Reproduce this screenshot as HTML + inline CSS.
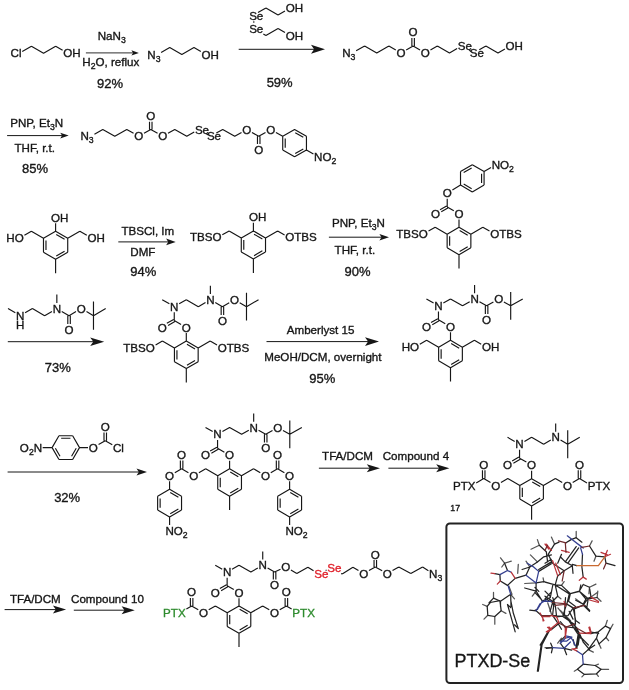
<!DOCTYPE html>
<html><head><meta charset="utf-8"><title>Scheme</title>
<style>html,body{margin:0;padding:0;background:#fff}svg{display:block;will-change:transform}</style>
</head><body>
<svg width="629" height="690" viewBox="0 0 629 690" font-family="'Liberation Sans', Arial, sans-serif">
<path d="M22.24 51.6L31.42 46.3M31.42 46.3L43.55 53.3M43.55 53.3L55.67 46.3M55.67 46.3L62.6 50.3" stroke="#161616" stroke-width="1.15" fill="none" stroke-linecap="butt"/>
<text x="10.54" y="57.45" font-size="11.6" fill="#161616" stroke="#161616" stroke-width="0.35" text-anchor="start">Cl</text>
<text x="63.29" y="57.45" font-size="11.6" fill="#161616" stroke="#161616" stroke-width="0.35" text-anchor="start">OH</text>
<path d="M85.9 52.9L134.4 52.9" stroke="#161616" stroke-width="0.9" fill="none"/><path d="M138.9 52.9L131.4 50.3L133.05 52.9L131.4 55.5Z" fill="#161616"/>
<text x="111.7" y="39.9" font-size="11.6" fill="#161616" stroke="#161616" stroke-width="0.35" text-anchor="middle">NaN<tspan dy="2.9" font-size="8.7">3</tspan></text>
<text x="110.8" y="66.1" font-size="11.6" fill="#161616" stroke="#161616" stroke-width="0.35" text-anchor="middle">H<tspan dy="2.9" font-size="8.7">2</tspan><tspan dy="-2.9">O, reflux</tspan></text>
<text x="110" y="87.6" font-size="13" fill="#161616" stroke="#161616" stroke-width="0.35" text-anchor="middle">92%</text>
<path d="M161.11 52.57L169.72 47.6M169.72 47.6L181.85 54.6M181.85 54.6L193.97 47.6M193.97 47.6L200.83 51.56" stroke="#161616" stroke-width="1.15" fill="none" stroke-linecap="butt"/>
<text x="147.29" y="58.75" font-size="11.6" fill="#161616" stroke="#161616" stroke-width="0.35" text-anchor="start">N<tspan dy="2.9" font-size="8.7">3</tspan></text>
<text x="201.59" y="58.75" font-size="11.6" fill="#161616" stroke="#161616" stroke-width="0.35" text-anchor="start">OH</text>
<path d="M257.96 12.5L265.92 7.9M265.92 7.9L278.05 14.9M278.05 14.9L284.98 10.9M263.33 33.9L265.92 35.4M265.92 35.4L278.05 28.4M278.05 28.4L284.98 32.4M253.8 21.35L253.8 22.76" stroke="#161616" stroke-width="1.15" fill="none" stroke-linecap="butt"/>
<text x="249.13" y="19.85" font-size="11.6" fill="#161616" stroke="#161616" stroke-width="0.35" text-anchor="start">Se</text>
<text x="285.66" y="12.05" font-size="11.6" fill="#161616" stroke="#161616" stroke-width="0.35" text-anchor="start">OH</text>
<text x="249.13" y="32.55" font-size="11.6" fill="#161616" stroke="#161616" stroke-width="0.35" text-anchor="start">Se</text>
<text x="285.66" y="39.55" font-size="11.6" fill="#161616" stroke="#161616" stroke-width="0.35" text-anchor="start">OH</text>
<path d="M238.7 49.3L316.6 49.3" stroke="#161616" stroke-width="1" fill="none"/><path d="M325 49.3L311 44.8L314.08 49.3L311 53.8Z" fill="#161616"/>
<text x="279.65" y="87.4" font-size="13" fill="#161616" stroke="#161616" stroke-width="0.35" text-anchor="middle">59%</text>
<path d="M356.14 50.8L364.62 45.9M364.62 45.9L376.75 52.9M376.75 52.9L388.87 45.9M388.87 45.9L395.8 49.9M406.19 49.9L413.12 45.9M413.12 45.9L420.05 49.9M430.44 49.9L437.37 45.9M437.37 45.9L449.49 52.9M449.49 52.9L457.12 48.5M471.15 51.4L469.24 50.3M479.29 49.7L485.87 45.9M485.87 45.9L497.99 52.9M497.99 52.9L504.92 48.9M414.37 45.9L414.37 37.9M411.87 45.9L411.87 37.9" stroke="#161616" stroke-width="1.15" fill="none" stroke-linecap="butt"/>
<text x="342.19" y="57.05" font-size="11.6" fill="#161616" stroke="#161616" stroke-width="0.35" text-anchor="start">N<tspan dy="2.9" font-size="8.7">3</tspan></text>
<text x="396.49" y="57.05" font-size="11.6" fill="#161616" stroke="#161616" stroke-width="0.35" text-anchor="start">O</text>
<text x="420.73" y="57.05" font-size="11.6" fill="#161616" stroke="#161616" stroke-width="0.35" text-anchor="start">O</text>
<text x="457.75" y="50.05" font-size="11.6" fill="#161616" stroke="#161616" stroke-width="0.35" text-anchor="start">Se</text>
<text x="469.87" y="57.05" font-size="11.6" fill="#161616" stroke="#161616" stroke-width="0.35" text-anchor="start">Se</text>
<text x="505.6" y="50.05" font-size="11.6" fill="#161616" stroke="#161616" stroke-width="0.35" text-anchor="start">OH</text>
<text x="408.61" y="36.45" font-size="11.6" fill="#161616" stroke="#161616" stroke-width="0.35" text-anchor="start">O</text>
<text x="36.65" y="126.7" font-size="11.6" fill="#161616" stroke="#161616" stroke-width="0.35" text-anchor="middle">PNP, Et<tspan dy="2.9" font-size="8.7">3</tspan><tspan dy="-2.9">N</tspan></text>
<path d="M7.1 135.6L63.6 135.6" stroke="#161616" stroke-width="1" fill="none"/><path d="M68.7 135.6L60.2 132.8L62.07 135.6L60.2 138.4Z" fill="#161616"/>
<text x="34.75" y="152.2" font-size="11.6" fill="#161616" stroke="#161616" stroke-width="0.35" text-anchor="middle">THF, r.t.</text>
<text x="35.1" y="172.5" font-size="13" fill="#161616" stroke="#161616" stroke-width="0.35" text-anchor="middle">85%</text>
<path d="M94.45 134.19L102.79 129.38M102.79 129.38L114.79 136.3M114.79 136.3L126.78 129.38M126.78 129.38L133.56 133.29M143.99 133.29L150.77 129.38M150.77 129.38L157.55 133.29M167.98 133.29L174.76 129.38M174.76 129.38L186.76 136.3M186.76 136.3L194.23 131.98M208.31 134.89L206.22 133.69M216.31 133.09L222.74 129.38M222.74 129.38L234.73 136.3M234.73 136.3L241.51 132.39M251.94 132.39L258.72 136.3M258.72 136.3L265.5 132.39M152.02 129.38L152.02 121.78M149.52 129.38L149.52 121.78M257.47 136.3L257.47 144.02M259.97 136.3L259.97 144.02M294.58 129.43L306.45 136.28M295.24 132.69L303.29 137.34M306.45 136.28L306.45 149.97M306.45 149.97L294.58 156.82M303.29 148.91L295.24 153.56M294.58 156.82L282.72 149.97M282.72 149.97L282.72 136.28M285.22 147.78L285.22 138.47M282.72 136.28L294.58 129.43M275.93 132.38L282.72 136.28M306.45 149.97L313.43 154" stroke="#161616" stroke-width="1.15" fill="none" stroke-linecap="butt"/>
<text x="80.49" y="140.45" font-size="11.6" fill="#161616" stroke="#161616" stroke-width="0.35" text-anchor="start">N<tspan dy="2.9" font-size="8.7">3</tspan></text>
<text x="134.27" y="140.45" font-size="11.6" fill="#161616" stroke="#161616" stroke-width="0.35" text-anchor="start">O</text>
<text x="158.25" y="140.45" font-size="11.6" fill="#161616" stroke="#161616" stroke-width="0.35" text-anchor="start">O</text>
<text x="194.88" y="133.53" font-size="11.6" fill="#161616" stroke="#161616" stroke-width="0.35" text-anchor="start">Se</text>
<text x="206.88" y="140.45" font-size="11.6" fill="#161616" stroke="#161616" stroke-width="0.35" text-anchor="start">Se</text>
<text x="242.22" y="133.53" font-size="11.6" fill="#161616" stroke="#161616" stroke-width="0.35" text-anchor="start">O</text>
<text x="266.2" y="133.53" font-size="11.6" fill="#161616" stroke="#161616" stroke-width="0.35" text-anchor="start">O</text>
<text x="146.26" y="120.33" font-size="11.6" fill="#161616" stroke="#161616" stroke-width="0.35" text-anchor="start">O</text>
<text x="254.21" y="153.65" font-size="11.6" fill="#161616" stroke="#161616" stroke-width="0.35" text-anchor="start">O</text>
<text x="314.12" y="160.98" font-size="11.6" fill="#161616" stroke="#161616" stroke-width="0.35" text-anchor="start">NO<tspan dy="2.9" font-size="8.7">2</tspan></text>
<path d="M55.6 231.3L67.72 238.3M56.26 234.57L64.57 239.37M67.72 238.3L67.72 252.3M67.72 252.3L55.6 259.3M64.57 251.23L56.26 256.03M55.6 259.3L43.48 252.3M43.48 252.3L43.48 238.3M45.98 250.1L45.98 240.5M43.48 238.3L55.6 231.3M55.6 259.3L55.6 273.3M55.6 231.3L55.6 223.23M43.48 238.3L31.35 231.3M31.35 231.3L24.42 235.3M67.72 238.3L79.85 231.3M79.85 231.3L86.78 235.3" stroke="#161616" stroke-width="1.15" fill="none" stroke-linecap="butt"/>
<text x="51.09" y="221.73" font-size="11.6" fill="#161616" stroke="#161616" stroke-width="0.35" text-anchor="start">OH</text>
<text x="6.34" y="242.45" font-size="11.6" fill="#161616" stroke="#161616" stroke-width="0.35" text-anchor="start">HO</text>
<text x="87.46" y="242.45" font-size="11.6" fill="#161616" stroke="#161616" stroke-width="0.35" text-anchor="start">OH</text>
<text x="147.85" y="234.5" font-size="11.6" fill="#161616" stroke="#161616" stroke-width="0.35" text-anchor="middle">TBSCl, Im</text>
<path d="M118.3 241.9L169.94 241.9" stroke="#161616" stroke-width="1" fill="none"/><path d="M175.7 241.9L166.1 238.6L168.21 241.9L166.1 245.2Z" fill="#161616"/>
<text x="142.85" y="256.3" font-size="11.6" fill="#161616" stroke="#161616" stroke-width="0.35" text-anchor="middle">DMF</text>
<text x="143.25" y="276.4" font-size="13" fill="#161616" stroke="#161616" stroke-width="0.35" text-anchor="middle">94%</text>
<path d="M253.4 230.9L265.52 237.9M254.06 234.17L262.37 238.97M265.52 237.9L265.52 251.9M265.52 251.9L253.4 258.9M262.37 250.83L254.06 255.63M253.4 258.9L241.28 251.9M241.28 251.9L241.28 237.9M243.78 249.7L243.78 240.1M241.28 237.9L253.4 230.9M253.4 258.9L253.4 272.9M253.4 230.9L253.4 222.83M241.28 237.9L229.15 230.9M229.15 230.9L222.3 234.86M265.52 237.9L277.65 230.9M277.65 230.9L284.58 234.9" stroke="#161616" stroke-width="1.15" fill="none" stroke-linecap="butt"/>
<text x="248.89" y="221.33" font-size="11.6" fill="#161616" stroke="#161616" stroke-width="0.35" text-anchor="start">OH</text>
<text x="189.95" y="241.05" font-size="11.6" fill="#161616" stroke="#161616" stroke-width="0.35" text-anchor="start">TBSO</text>
<text x="285.26" y="241.05" font-size="11.6" fill="#161616" stroke="#161616" stroke-width="0.35" text-anchor="start">OTBS</text>
<text x="358.4" y="226.8" font-size="11.6" fill="#161616" stroke="#161616" stroke-width="0.35" text-anchor="middle">PNP, Et<tspan dy="2.9" font-size="8.7">3</tspan><tspan dy="-2.9">N</tspan></text>
<path d="M328.9 237.2L383.24 237.2" stroke="#161616" stroke-width="1" fill="none"/><path d="M389 237.2L379.4 233.9L381.51 237.2L379.4 240.5Z" fill="#161616"/>
<text x="354.85" y="253.8" font-size="11.6" fill="#161616" stroke="#161616" stroke-width="0.35" text-anchor="middle">THF, r.t.</text>
<text x="357.5" y="275.6" font-size="13" fill="#161616" stroke="#161616" stroke-width="0.35" text-anchor="middle">90%</text>
<path d="M459 227.3L470.86 234.15M459.66 230.57L467.71 235.22M470.86 234.15L470.86 247.85M470.86 247.85L459 254.7M467.71 246.78L459.66 251.43M459 254.7L447.14 247.85M447.14 247.85L447.14 234.15M449.64 245.65L449.64 236.35M447.14 234.15L459 227.3M459 254.7L459 268.5M459 227.3L459 219.43M447.14 234.15L435.18 227.25M435.18 227.25L428.51 231.11M470.86 234.15L482.82 227.25M482.82 227.25L489.49 231.11M453.8 210.78L447.22 206.98M446.6 205.89L440.02 209.69M447.85 208.06L441.27 211.86M447.22 206.98L447.22 198.78M472.3 164.7L484.08 171.5M484.08 171.5L484.08 185.1M481.58 173.7L481.58 182.9M484.08 185.1L472.3 191.9M472.3 191.9L460.52 185.1M471.64 188.63L463.68 184.03M460.52 185.1L460.52 171.5M460.52 171.5L472.3 164.7M463.68 172.57L471.64 167.97M452.4 190.03L460.52 185.1M484.08 171.5L491.01 167.5" stroke="#161616" stroke-width="1.15" fill="none" stroke-linecap="butt"/>
<text x="454.49" y="217.93" font-size="11.6" fill="#161616" stroke="#161616" stroke-width="0.35" text-anchor="start">O</text>
<text x="396.16" y="238.3" font-size="11.6" fill="#161616" stroke="#161616" stroke-width="0.35" text-anchor="start">TBSO</text>
<text x="490.25" y="238.3" font-size="11.6" fill="#161616" stroke="#161616" stroke-width="0.35" text-anchor="start">OTBS</text>
<text x="430.93" y="217.93" font-size="11.6" fill="#161616" stroke="#161616" stroke-width="0.35" text-anchor="start">O</text>
<text x="442.71" y="197.33" font-size="11.6" fill="#161616" stroke="#161616" stroke-width="0.35" text-anchor="start">O</text>
<text x="491.67" y="168.85" font-size="11.6" fill="#161616" stroke="#161616" stroke-width="0.35" text-anchor="start">NO<tspan dy="2.9" font-size="8.7">2</tspan></text>
<path d="M8 308.6L15.33 312.83M25.1 312.83L32.42 308.6M32.42 308.6L44.63 315.65M44.63 315.65L51.96 311.42M61.73 311.42L69.05 315.65M69.05 315.65L76.03 311.62M86.5 311.62L93.48 315.65M56.84 302.96L56.84 294.5M67.8 315.65L67.8 324.11M70.3 315.65L70.3 324.11M93.48 315.65L93.48 301.55M93.48 315.65L93.48 329.75M93.48 315.65L105.69 308.6" stroke="#161616" stroke-width="1.15" fill="none" stroke-linecap="butt"/>
<text x="16.02" y="319.8" font-size="11.6" fill="#161616" stroke="#161616" stroke-width="0.35" text-anchor="start">N</text>
<text x="52.66" y="312.75" font-size="11.6" fill="#161616" stroke="#161616" stroke-width="0.35" text-anchor="start">N</text>
<text x="76.75" y="312.75" font-size="11.6" fill="#161616" stroke="#161616" stroke-width="0.35" text-anchor="start">O</text>
<text x="64.54" y="333.9" font-size="11.6" fill="#161616" stroke="#161616" stroke-width="0.35" text-anchor="start">O</text>
<text x="16.02" y="329" font-size="11.6" fill="#161616" stroke="#161616" stroke-width="0.35" text-anchor="start">H</text>
<path d="M7.8 341.7L95.8 341.7" stroke="#161616" stroke-width="1" fill="none"/><path d="M104.2 341.7L90.2 337.4L93.28 341.7L90.2 346Z" fill="#161616"/>
<text x="57.75" y="371.7" font-size="13" fill="#161616" stroke="#161616" stroke-width="0.35" text-anchor="middle">73%</text>
<path d="M186.3 341.1L198.16 347.95M186.96 344.37L195.01 349.02M198.16 347.95L198.16 361.65M198.16 361.65L186.3 368.5M195.01 360.58L186.96 365.23M186.3 368.5L174.44 361.65M174.44 361.65L174.44 347.95M176.94 359.45L176.94 350.15M174.44 347.95L186.3 341.1M186.3 368.5L186.3 382.4M186.3 341.1L186.3 333.09M174.44 347.95L162.4 341M162.4 341L155.59 344.93M198.16 347.95L210.2 341M210.2 341L217.01 344.93M181.07 324.46L174.26 320.53M173.64 319.45L166.83 323.37M174.89 321.61L168.08 325.54M174.26 320.53L174.26 312.27M169.38 303.81L162.22 299.68M179.15 303.81L186.3 299.68M186.3 299.68L198.34 306.63M198.34 306.63L205.49 302.5M210.38 294.04L210.38 285.78M215.26 302.5L222.41 306.63M222.41 306.63L229.22 302.7M239.68 302.7L246.49 306.63M221.16 306.63L221.16 314.89M223.66 306.63L223.66 314.89M246.49 306.63L246.49 292.73M246.49 306.63L246.49 320.53M246.49 306.63L258.53 299.68" stroke="#161616" stroke-width="1.15" fill="none" stroke-linecap="butt"/>
<text x="181.79" y="331.63" font-size="11.6" fill="#161616" stroke="#161616" stroke-width="0.35" text-anchor="start">O</text>
<text x="123.29" y="351.5" font-size="11.6" fill="#161616" stroke="#161616" stroke-width="0.35" text-anchor="start">TBSO</text>
<text x="217.73" y="351.5" font-size="11.6" fill="#161616" stroke="#161616" stroke-width="0.35" text-anchor="start">OTBS</text>
<text x="157.71" y="331.63" font-size="11.6" fill="#161616" stroke="#161616" stroke-width="0.35" text-anchor="start">O</text>
<text x="170.07" y="310.78" font-size="11.6" fill="#161616" stroke="#161616" stroke-width="0.35" text-anchor="start">N</text>
<text x="206.19" y="303.83" font-size="11.6" fill="#161616" stroke="#161616" stroke-width="0.35" text-anchor="start">N</text>
<text x="229.94" y="303.83" font-size="11.6" fill="#161616" stroke="#161616" stroke-width="0.35" text-anchor="start">O</text>
<text x="217.9" y="324.68" font-size="11.6" fill="#161616" stroke="#161616" stroke-width="0.35" text-anchor="start">O</text>
<text x="320.6" y="333.8" font-size="11.6" fill="#161616" stroke="#161616" stroke-width="0.35" text-anchor="middle">Amberlyst 15</text>
<path d="M266.5 341.6L370.6 341.6" stroke="#161616" stroke-width="1" fill="none"/><path d="M379 341.6L365 337.3L368.08 341.6L365 345.9Z" fill="#161616"/>
<text x="322.9" y="361.2" font-size="11.6" fill="#161616" stroke="#161616" stroke-width="0.35" text-anchor="middle">MeOH/DCM, overnight</text>
<text x="322.3" y="382.9" font-size="13" fill="#161616" stroke="#161616" stroke-width="0.35" text-anchor="middle">95%</text>
<path d="M450.5 340.3L462.36 347.15M451.16 343.57L459.21 348.22M462.36 347.15L462.36 360.85M462.36 360.85L450.5 367.7M459.21 359.78L451.16 364.43M450.5 367.7L438.64 360.85M438.64 360.85L438.64 347.15M441.14 358.65L441.14 349.35M438.64 347.15L450.5 340.3M450.5 367.7L450.5 381.6M450.5 340.3L450.5 332.29M438.64 347.15L426.6 340.2M426.6 340.2L419.79 344.13M462.36 347.15L474.4 340.2M474.4 340.2L481.21 344.13M445.27 323.66L438.46 319.73M437.84 318.65L431.03 322.57M439.09 320.81L432.28 324.74M438.46 319.73L438.46 311.47M433.58 303.01L426.42 298.88M443.35 303.01L450.5 298.88M450.5 298.88L462.54 305.83M462.54 305.83L469.69 301.7M474.58 293.24L474.58 284.98M479.46 301.7L486.61 305.83M486.61 305.83L493.42 301.9M503.88 301.9L510.69 305.83M485.36 305.83L485.36 314.09M487.86 305.83L487.86 314.09M510.69 305.83L510.69 291.93M510.69 305.83L510.69 319.73M510.69 305.83L522.73 298.88" stroke="#161616" stroke-width="1.15" fill="none" stroke-linecap="butt"/>
<text x="445.99" y="330.83" font-size="11.6" fill="#161616" stroke="#161616" stroke-width="0.35" text-anchor="start">O</text>
<text x="401.67" y="351.3" font-size="11.6" fill="#161616" stroke="#161616" stroke-width="0.35" text-anchor="start">HO</text>
<text x="481.93" y="351.3" font-size="11.6" fill="#161616" stroke="#161616" stroke-width="0.35" text-anchor="start">OH</text>
<text x="421.91" y="330.83" font-size="11.6" fill="#161616" stroke="#161616" stroke-width="0.35" text-anchor="start">O</text>
<text x="434.27" y="309.98" font-size="11.6" fill="#161616" stroke="#161616" stroke-width="0.35" text-anchor="start">N</text>
<text x="470.39" y="303.03" font-size="11.6" fill="#161616" stroke="#161616" stroke-width="0.35" text-anchor="start">N</text>
<text x="494.14" y="303.03" font-size="11.6" fill="#161616" stroke="#161616" stroke-width="0.35" text-anchor="start">O</text>
<text x="482.1" y="323.88" font-size="11.6" fill="#161616" stroke="#161616" stroke-width="0.35" text-anchor="start">O</text>
<path d="M79.5 447.6L72.65 459.46M76.23 448.26L71.58 456.31M72.65 459.46L58.95 459.46M58.95 459.46L52.1 447.6M60.02 456.31L55.37 448.26M52.1 447.6L58.95 435.74M58.95 435.74L72.65 435.74M61.15 438.24L70.45 438.24M72.65 435.74L79.5 447.6M52.1 447.6L42.7 447.6M79.5 447.6L88.02 447.6M98.57 444.56L105.25 440.7M105.25 440.7L112.28 444.76M106.5 440.7L106.5 432.5M104 440.7L104 432.5" stroke="#161616" stroke-width="1.15" fill="none" stroke-linecap="butt"/>
<text x="19.85" y="451.75" font-size="11.6" fill="#161616" stroke="#161616" stroke-width="0.35" text-anchor="start">O<tspan dy="2.9" font-size="8.7">2</tspan><tspan dy="-2.9">N</tspan></text>
<text x="88.79" y="451.75" font-size="11.6" fill="#161616" stroke="#161616" stroke-width="0.35" text-anchor="start">O</text>
<text x="113.01" y="451.75" font-size="11.6" fill="#161616" stroke="#161616" stroke-width="0.35" text-anchor="start">Cl</text>
<text x="100.74" y="431.05" font-size="11.6" fill="#161616" stroke="#161616" stroke-width="0.35" text-anchor="start">O</text>
<path d="M7.6 472L140.7 472" stroke="#161616" stroke-width="1" fill="none"/><path d="M147 472L136.5 468.5L138.81 472L136.5 475.5Z" fill="#161616"/>
<text x="67.15" y="501.8" font-size="13" fill="#161616" stroke="#161616" stroke-width="0.35" text-anchor="middle">32%</text>
<path d="M229.6 468.8L241.46 475.65M230.26 472.07L238.31 476.72M241.46 475.65L241.46 489.35M241.46 489.35L229.6 496.2M238.31 488.28L230.26 492.93M229.6 496.2L217.74 489.35M217.74 489.35L217.74 475.65M220.24 487.15L220.24 477.85M217.74 475.65L229.6 468.8M229.6 496.2L229.6 510.1M229.6 468.8L229.6 460.79M217.74 475.65L205.7 468.7M241.46 475.65L253.5 468.7M224.37 452.16L217.56 448.23M216.94 447.15L210.13 451.07M218.19 449.31L211.38 453.24M217.56 448.23L217.56 439.97M212.68 431.51L205.52 427.38M222.45 431.51L229.6 427.38M229.6 427.38L241.64 434.33M241.64 434.33L248.79 430.2M253.68 421.74L253.68 413.48M258.56 430.2L265.71 434.33M265.71 434.33L272.52 430.4M282.98 430.4L289.79 434.33M264.46 434.33L264.46 442.59M266.96 434.33L266.96 442.59M289.79 434.33L289.79 420.43M289.79 434.33L289.79 448.23M289.79 434.33L301.83 427.38M205.7 468.7L198.89 472.63M188.43 472.63L181.62 468.7M182.87 468.7L182.87 460.44M180.37 468.7L180.37 460.44M181.62 468.7L174.82 472.63M169.58 489.35L181.54 496.25M170.24 492.62L178.38 497.32M181.54 496.25L181.54 510.05M181.54 510.05L169.58 516.95M178.38 508.98L170.24 513.68M169.58 516.95L157.63 510.05M157.63 510.05L157.63 496.25M160.13 507.85L160.13 498.45M157.63 496.25L169.58 489.35M169.58 481.29L169.58 489.35M169.58 516.95L169.58 524.95M253.5 468.7L260.31 472.63M270.77 472.63L277.58 468.7M278.83 468.7L278.83 460.44M276.33 468.7L276.33 460.44M277.58 468.7L284.38 472.63M289.62 489.35L301.57 496.25M290.27 492.62L298.41 497.32M301.57 496.25L301.57 510.05M301.57 510.05L289.62 516.95M298.41 508.98L290.27 513.68M289.62 516.95L277.66 510.05M277.66 510.05L277.66 496.25M280.16 507.85L280.16 498.45M277.66 496.25L289.62 489.35M289.62 481.29L289.62 489.35M289.62 516.95L289.62 524.95" stroke="#161616" stroke-width="1.15" fill="none" stroke-linecap="butt"/>
<text x="225.09" y="459.33" font-size="11.6" fill="#161616" stroke="#161616" stroke-width="0.35" text-anchor="start">O</text>
<text x="201.01" y="459.33" font-size="11.6" fill="#161616" stroke="#161616" stroke-width="0.35" text-anchor="start">O</text>
<text x="213.37" y="438.48" font-size="11.6" fill="#161616" stroke="#161616" stroke-width="0.35" text-anchor="start">N</text>
<text x="249.49" y="431.53" font-size="11.6" fill="#161616" stroke="#161616" stroke-width="0.35" text-anchor="start">N</text>
<text x="273.24" y="431.53" font-size="11.6" fill="#161616" stroke="#161616" stroke-width="0.35" text-anchor="start">O</text>
<text x="261.2" y="452.38" font-size="11.6" fill="#161616" stroke="#161616" stroke-width="0.35" text-anchor="start">O</text>
<text x="189.15" y="479.8" font-size="11.6" fill="#161616" stroke="#161616" stroke-width="0.35" text-anchor="start">O</text>
<text x="177.11" y="458.95" font-size="11.6" fill="#161616" stroke="#161616" stroke-width="0.35" text-anchor="start">O</text>
<text x="165.07" y="479.8" font-size="11.6" fill="#161616" stroke="#161616" stroke-width="0.35" text-anchor="start">O</text>
<text x="165.4" y="534.7" font-size="11.6" fill="#161616" stroke="#161616" stroke-width="0.35" text-anchor="start">NO<tspan dy="2.9" font-size="8.7">2</tspan></text>
<text x="261.03" y="479.8" font-size="11.6" fill="#161616" stroke="#161616" stroke-width="0.35" text-anchor="start">O</text>
<text x="273.07" y="458.95" font-size="11.6" fill="#161616" stroke="#161616" stroke-width="0.35" text-anchor="start">O</text>
<text x="285.1" y="479.8" font-size="11.6" fill="#161616" stroke="#161616" stroke-width="0.35" text-anchor="start">O</text>
<text x="285.43" y="534.7" font-size="11.6" fill="#161616" stroke="#161616" stroke-width="0.35" text-anchor="start">NO<tspan dy="2.9" font-size="8.7">2</tspan></text>
<text x="347.5" y="460.3" font-size="11.6" fill="#161616" stroke="#161616" stroke-width="0.35" text-anchor="middle">TFA/DCM</text>
<path d="M318.9 468.2L372.08 468.2" stroke="#161616" stroke-width="1" fill="none"/><path d="M380 468.2L366.8 464.2L369.7 468.2L366.8 472.2Z" fill="#161616"/>
<text x="415.95" y="460.3" font-size="11.6" fill="#161616" stroke="#161616" stroke-width="0.35" text-anchor="middle">Compound 4</text>
<path d="M388.4 468.2L441.48 468.2" stroke="#161616" stroke-width="1" fill="none"/><path d="M449.4 468.2L436.2 464.2L439.1 468.2L436.2 472.2Z" fill="#161616"/>
<path d="M531.6 478.7L543.38 485.5M532.26 481.97L540.22 486.57M543.38 485.5L543.38 499.1M543.38 499.1L531.6 505.9M540.22 498.03L532.26 502.63M531.6 505.9L519.82 499.1M519.82 499.1L519.82 485.5M522.32 496.9L522.32 487.7M519.82 485.5L531.6 478.7M531.6 505.9L531.6 519.8M531.6 478.7L531.6 470.69M519.82 485.5L507.78 478.55M543.38 485.5L555.42 478.55M526.37 462.06L519.56 458.13M518.94 457.05L512.13 460.97M520.19 459.21L513.38 463.14M519.56 458.13L519.56 449.87M514.68 441.41L507.52 437.28M524.45 441.41L531.6 437.28M531.6 437.28L543.64 444.23M543.64 444.23L550.79 440.1M555.68 431.64L555.68 423.38M560.56 440.1L567.71 444.23M567.71 444.23L567.71 430.33M567.71 444.23L567.71 458.13M567.71 444.23L579.75 437.28M507.78 478.55L500.98 482.48M490.51 482.48L483.71 478.55M484.96 478.55L484.96 470.29M482.46 478.55L482.46 470.29M483.71 478.55L476.21 482.88M555.42 478.55L562.22 482.48M572.69 482.48L579.49 478.55M580.74 478.55L580.74 470.29M578.24 478.55L578.24 470.29M579.49 478.55L586.99 482.88" stroke="#161616" stroke-width="1.15" fill="none" stroke-linecap="butt"/>
<text x="527.09" y="469.23" font-size="11.6" fill="#161616" stroke="#161616" stroke-width="0.35" text-anchor="start">O</text>
<text x="503.01" y="469.23" font-size="11.6" fill="#161616" stroke="#161616" stroke-width="0.35" text-anchor="start">O</text>
<text x="515.37" y="448.38" font-size="11.6" fill="#161616" stroke="#161616" stroke-width="0.35" text-anchor="start">N</text>
<text x="551.49" y="441.43" font-size="11.6" fill="#161616" stroke="#161616" stroke-width="0.35" text-anchor="start">N</text>
<text x="491.23" y="489.65" font-size="11.6" fill="#161616" stroke="#161616" stroke-width="0.35" text-anchor="start">O</text>
<text x="479.2" y="468.8" font-size="11.6" fill="#161616" stroke="#161616" stroke-width="0.35" text-anchor="start">O</text>
<text x="452.98" y="489.65" font-size="11.6" fill="#161616" stroke="#161616" stroke-width="0.35" text-anchor="start">PTX</text>
<text x="562.94" y="489.65" font-size="11.6" fill="#161616" stroke="#161616" stroke-width="0.35" text-anchor="start">O</text>
<text x="574.98" y="468.8" font-size="11.6" fill="#161616" stroke="#161616" stroke-width="0.35" text-anchor="start">O</text>
<text x="587.66" y="489.65" font-size="11.6" fill="#161616" stroke="#161616" stroke-width="0.35" text-anchor="start">PTX</text>
<text x="450.3" y="510.8" font-size="8.8" fill="#161616" stroke="#161616" stroke-width="0.35" text-anchor="start">17</text>
<text x="35.35" y="602.6" font-size="11.6" fill="#161616" stroke="#161616" stroke-width="0.35" text-anchor="middle">TFA/DCM</text>
<path d="M4.6 609.6L58.18 609.6" stroke="#161616" stroke-width="1" fill="none"/><path d="M66.1 609.6L52.9 605.6L55.8 609.6L52.9 613.6Z" fill="#161616"/>
<text x="107.45" y="602.6" font-size="11.6" fill="#161616" stroke="#161616" stroke-width="0.35" text-anchor="middle">Compound 10</text>
<path d="M73.8 610.2L126.88 610.2" stroke="#161616" stroke-width="1" fill="none"/><path d="M134.8 610.2L121.6 606.2L124.5 610.2L121.6 614.2Z" fill="#161616"/>
<path d="M239 606L250.78 612.8M239.66 609.27L247.62 613.87M250.78 612.8L250.78 626.4M250.78 626.4L239 633.2M247.62 625.33L239.66 629.93M239 633.2L227.22 626.4M227.22 626.4L227.22 612.8M229.72 624.2L229.72 615M227.22 612.8L239 606M239 633.2L239 646.9M239 606L239 598.18M227.22 612.8L215.36 605.95M250.78 612.8L262.64 605.95M233.77 589.55L227.14 585.72M226.51 584.64L219.88 588.47M227.76 586.81L221.13 590.63M227.14 585.72L227.14 577.67M222.25 569.2L215.27 565.17M232.02 569.2L239 565.17M239 565.17L250.86 572.02M250.86 572.02L257.84 567.99M262.73 559.53L262.73 551.47M267.61 567.99L274.59 572.02M274.59 572.02L280.52 569.34M273.34 572.02L273.34 579.62M275.84 572.02L275.84 579.62M290.9 570.09L296.8 573.6M296.8 573.6L307.9 567.2M307.9 567.2L313.56 570.78M325.63 570.44L326.56 570.04M341.1 573.4L342.2 574M342.2 574L352.9 567.2M352.9 567.2L358.47 570.5M368.97 570.6L375.3 567M375.3 567L382.18 570.79M392.53 570.6L398.8 567M398.8 567L410.8 573.6M410.8 573.6L422.6 567M422.6 567L428.4 570.68M376.55 567L376.55 560.09M374.05 567L374.05 560.09M215.36 605.95L208.73 609.78M198.26 609.78L191.63 605.95M192.88 605.95L192.88 597.89M190.38 605.95L190.38 597.89M191.63 605.95L186.39 608.97M262.64 605.95L269.27 609.78M279.74 609.78L286.37 605.95M287.62 605.95L287.62 597.89M285.12 605.95L285.12 597.89M286.37 605.95L291.61 608.97" stroke="#161616" stroke-width="1.15" fill="none" stroke-linecap="butt"/>
<text x="234.49" y="596.73" font-size="11.6" fill="#161616" stroke="#161616" stroke-width="0.35" text-anchor="start">O</text>
<text x="210.76" y="596.73" font-size="11.6" fill="#161616" stroke="#161616" stroke-width="0.35" text-anchor="start">O</text>
<text x="222.95" y="576.18" font-size="11.6" fill="#161616" stroke="#161616" stroke-width="0.35" text-anchor="start">N</text>
<text x="258.54" y="569.33" font-size="11.6" fill="#161616" stroke="#161616" stroke-width="0.35" text-anchor="start">N</text>
<text x="281.19" y="571.15" font-size="11.6" fill="#161616" stroke="#161616" stroke-width="0.35" text-anchor="start">O</text>
<text x="270.08" y="589.38" font-size="11.6" fill="#161616" stroke="#161616" stroke-width="0.35" text-anchor="start">O</text>
<text x="314.33" y="577.85" font-size="11.6" fill="#e0202a" stroke="#e0202a" stroke-width="0.35" text-anchor="start">Se</text>
<text x="327.33" y="572.15" font-size="11.6" fill="#e0202a" stroke="#e0202a" stroke-width="0.35" text-anchor="start">Se</text>
<text x="359.19" y="577.75" font-size="11.6" fill="#161616" stroke="#161616" stroke-width="0.35" text-anchor="start">O</text>
<text x="382.79" y="577.75" font-size="11.6" fill="#161616" stroke="#161616" stroke-width="0.35" text-anchor="start">O</text>
<text x="429.04" y="577.75" font-size="11.6" fill="#161616" stroke="#161616" stroke-width="0.35" text-anchor="start">N<tspan dy="2.9" font-size="8.7">3</tspan></text>
<text x="370.79" y="558.75" font-size="11.6" fill="#161616" stroke="#161616" stroke-width="0.35" text-anchor="start">O</text>
<text x="198.98" y="616.95" font-size="11.6" fill="#161616" stroke="#161616" stroke-width="0.35" text-anchor="start">O</text>
<text x="187.12" y="596.4" font-size="11.6" fill="#161616" stroke="#161616" stroke-width="0.35" text-anchor="start">O</text>
<text x="163.07" y="616.95" font-size="11.6" fill="#2e8b2e" stroke="#2e8b2e" stroke-width="0.35" text-anchor="start">PTX</text>
<text x="269.99" y="616.95" font-size="11.6" fill="#161616" stroke="#161616" stroke-width="0.35" text-anchor="start">O</text>
<text x="281.86" y="596.4" font-size="11.6" fill="#161616" stroke="#161616" stroke-width="0.35" text-anchor="start">O</text>
<text x="292.37" y="616.95" font-size="11.6" fill="#2e8b2e" stroke="#2e8b2e" stroke-width="0.35" text-anchor="start">PTX</text>
<rect x="446.4" y="523.4" width="176.6" height="159.6" rx="3.5" ry="3.5" fill="#fff" stroke="#222" stroke-width="2"/>
<text x="454.6" y="667" font-size="17.9" fill="#161616" stroke="#161616" stroke-width="0.35" text-anchor="start">PTXD-Se</text>
<g fill="none" stroke-linecap="round" stroke-width="1.25">
<path d="M500.5 557.8L504.6 563.2M504.6 563.2L511.3 561.2M504.6 563.2L501.8 567.0M518.3 564.4L517.7 573.3M493.5 598.1L493.5 592.4M510.7 594.3L514.5 598.8M508.8 586.0L512.0 594.3M529.8 567.0L526.0 561.2M537.4 561.9L530.4 554.9M543.8 581.6L543.1 577.8M536.1 591.1L532.3 596.2M531.0 549.2L539.3 545.3M539.3 545.3L537.4 539.6M524.7 583.5L536.1 582.9M551.4 537.1L554.5 544.1M576.2 531.4L576.2 537.7M589.5 546.0L592.1 540.9M595.9 556.2L594.0 561.2M561.5 585.4L564.1 581.6M589.5 587.3L595.9 584.1M589.5 587.3L588.9 593.7M597.1 597.5L597.8 591.1M597.1 597.5L601.0 601.3M557.7 596.2L560.9 598.8M575.5 598.8L580.6 602.6M487.2 606.4L482.7 604.5M487.8 615.3L484.0 619.1M494.8 616.5L494.8 624.2M501.2 610.8L505.9 613.4M545.0 647.7L551.4 647.7M601.0 669.3L608.6 669.3M596.5 673.8L598.4 676.3M584.4 674.4L581.9 676.9M577.4 669.3L574.3 671.2M595.2 665.5L598.4 664.2M588.2 649.6L593.3 652.1M605.4 626.1L607.3 620.3M610.5 628.6L613.0 624.2M606.0 637.5L608.6 640.7M599.1 643.9L601.0 648.3M561.5 638.2L557.7 643.2M591.0 597.1L597.3 592.6M560.4 610.4L570.6 620.6M557.9 607.9L563.0 614.3M547.7 602.8L551.5 614.3" stroke="#555555"/>
<path d="M504.6 563.2L507.5 570.5M499.9 574.6L494.8 573.6M499.9 574.6L500.3 581.0M500.3 581.0L507.5 585.4M507.5 585.4L515.2 578.4M515.2 578.4L526.0 575.2M510.7 594.3L500.5 601.3M500.5 601.3L493.5 598.1M500.5 601.3L500.5 606.4M493.5 598.1L489.1 602.8M510.7 594.3L511.0 606.4M526.0 575.2L529.8 567.0M529.8 567.0L537.4 561.9M537.4 561.9L543.8 556.8M543.8 556.8L551.4 554.9M529.8 567.0L522.1 569.5M538.7 571.4L551.4 563.8M538.7 569.5L551.4 561.9M536.1 582.9L543.8 581.6M543.8 581.6L551.4 583.8M536.1 582.9L536.1 591.1M536.1 591.1L524.7 588.0M536.1 591.1L542.5 601.3M539.3 545.3L546.3 551.7M546.3 551.7L547.6 561.9M545.0 598.8L551.4 591.8M554.5 544.1L548.2 554.3M548.2 554.3L552.6 563.2M554.5 544.1L559.0 542.2M566.0 542.8L571.1 539.6M571.1 539.6L576.2 537.7M576.2 537.7L581.9 542.2M589.5 546.0L595.9 556.2M595.9 556.2L604.8 556.8M604.8 556.8L606.0 563.2M606.0 563.2L615.0 565.7M576.8 565.7L572.3 564.4M576.2 546.6L565.3 561.9M578.7 547.9L567.9 563.2M565.3 561.9L572.3 565.7M582.5 554.3L581.9 567.0M581.9 567.0L583.2 577.1M552.6 563.2L564.1 570.8M564.1 570.8L572.3 565.7M557.7 575.9L564.1 570.8M545.0 563.2L551.4 559.3M545.0 565.7L552.0 561.9M572.3 565.7L573.0 573.3M557.7 575.9L555.2 584.8M555.2 584.8L545.0 582.2M555.2 584.8L561.5 585.4M561.5 585.4L570.4 593.7M570.4 593.7L579.3 591.1M579.3 591.1L583.2 584.5M583.2 584.5L589.5 587.3M579.3 591.1L588.2 598.8M588.2 598.8L597.1 597.5M570.4 593.7L568.5 601.3M568.5 601.3L575.5 606.4M555.2 584.8L557.7 596.2M557.7 596.2L552.6 601.3M552.6 601.3L545.0 596.2M552.6 601.3L553.9 606.4M588.2 598.8L587.0 606.4M545.0 591.1L550.1 596.2M560.3 556.8L565.3 561.9M561.5 554.3L557.7 563.2M490.3 602.5L499.9 600.6M499.9 600.6L501.2 610.8M501.2 610.8L494.8 616.5M494.8 616.5L487.8 615.3M487.8 615.3L487.2 606.4M487.2 606.4L490.3 602.5M507.5 604.5L512.0 620.3M512.0 620.3L515.2 631.8M510.7 600.0L513.2 612.7M513.2 612.7L518.3 628.6M518.3 628.6L514.5 624.8M508.2 605.1L510.7 607.6M536.1 610.8L529.8 610.2M536.1 610.8L542.5 616.5M548.9 630.5L541.2 644.5M549.2 630.9L542.0 644.8M541.2 644.5L537.4 671.2M542.0 644.8L538.3 671.2M541.6 644.8L537.8 671.2M583.2 664.2L595.2 665.5M595.2 665.5L601.0 669.3M601.0 669.3L596.5 673.8M596.5 673.8L584.4 674.4M584.4 674.4L577.4 669.3M577.4 669.3L583.2 664.2M582.5 654.7L588.2 649.6M588.2 649.6L594.6 645.2M598.4 631.8L605.4 626.1M605.4 626.1L610.5 628.6M610.5 628.6L606.0 637.5M606.0 637.5L599.1 643.9M599.1 643.9L596.5 638.2M596.5 638.2L598.4 631.8M596.5 638.2L588.2 649.6M598.4 631.8L590.8 633.7M579.3 633.1L571.7 625.4M579.3 633.1L583.2 642.0M583.2 642.0L589.5 649.6M579.3 633.1L576.8 648.3M578.3 633.3L575.9 648.3M552.6 647.7L550.7 643.2M552.6 647.7L546.3 648.3M552.6 647.7L551.4 652.8M564.1 648.3L566.6 654.7M564.1 648.3L571.7 650.2M560.3 621.6L565.3 627.3M566.6 603.8L574.3 608.9M574.3 608.9L583.2 605.1M583.2 605.1L589.5 611.4M583.2 605.1L587.0 600.0M574.3 608.9L575.5 624.2M566.6 603.8L562.8 616.5M562.8 616.5L552.6 615.3M552.6 615.3L553.9 603.8M562.8 616.5L574.3 624.2M574.3 624.2L579.3 633.1M552.6 615.3L557.7 622.9M550.1 629.3L545.0 636.9M557.7 622.9L561.5 629.3M567.9 619.1L580.6 638.2M569.2 611.4L573.0 619.1M560.3 643.2L564.1 648.3M552.6 602.5L550.1 611.4M547.5 600.0L552.6 602.5M552.8 585.0L550.3 597.7M550.3 597.7L542.6 600.9M542.6 600.9L535.0 592.6M537.5 609.2L535.0 610.4M555.3 585.0L569.3 593.9M569.3 593.9L579.5 591.4M579.5 591.4L585.9 599.0M585.9 599.0L591.0 597.1M591.0 597.1L589.7 588.8M579.5 591.4L580.8 585.0M569.3 593.9L566.8 604.1M555.3 605.3L552.8 597.7M555.3 605.3L556.6 616.8M556.6 616.8L568.1 615.5M568.1 615.5L573.2 607.9M573.2 607.9L566.8 604.1M584.6 605.3L589.7 610.4M573.2 607.9L575.7 620.6M575.7 620.6L579.5 623.2M565.5 597.7L564.3 615.5M564.3 615.5L577.0 628.2M577.0 628.2L579.5 635.9M559.2 623.2L551.5 629.5M547.7 632.1L542.6 641.0M542.6 641.0L540.1 645.0M565.5 635.9L560.4 641.0M566.8 627.0L577.0 628.2M591.0 632.1L598.6 633.3M579.5 635.9L578.2 645.0M579.5 635.9L588.4 645.0M573.2 639.7L574.4 645.0M535.0 587.5L538.8 591.4M575.7 600.3L583.3 604.1M583.3 604.1L585.9 599.0" stroke="#242424"/>
<path d="M507.5 570.5L499.9 574.6M511.3 572.3L507.5 570.5M508.2 586.0L510.7 594.3M526.0 575.2L536.1 582.9M536.1 582.9L538.7 571.4M542.5 601.3L551.4 601.3M527.2 563.2L533.6 567.0M533.6 567.0L538.7 571.4M567.3 535.8L581.9 547.3M568.5 536.7L583.2 548.1M580.6 547.9L582.5 554.3M540.0 603.8L546.3 600.0M540.0 603.8L536.1 610.8M583.2 664.2L582.5 654.7M582.5 654.7L576.8 650.9M570.4 636.9L565.3 638.2M570.4 636.9L573.0 640.7M565.3 638.2L560.3 643.2M570.4 642.0L564.1 648.3M564.1 648.3L552.6 647.7M573.0 640.7L575.5 645.8M542.6 600.9L537.5 609.2M565.5 635.9L571.9 637.1M571.9 637.1L566.8 641.0M566.8 641.0L560.4 641.0" stroke="#343f8f"/>
<path d="M494.8 573.6L491.0 573.1M500.3 581.0L497.3 584.1M515.2 578.4L511.3 572.3M546.3 544.1L551.4 550.4M604.8 556.8L607.3 550.4M601.0 552.3L607.3 554.9M604.8 556.8L610.5 554.3M561.5 550.4L569.2 552.3M583.2 577.1L579.3 580.3M583.2 577.1L586.3 579.1M552.6 560.6L557.7 575.9M555.8 563.2L560.3 574.6M564.1 601.3L565.3 606.4M545.0 544.1L548.8 549.2M542.5 616.5L550.0 616.5M542.5 616.5L543.1 621.0M551.4 628.6L546.3 631.8M576.8 650.9L572.3 649.0M590.8 633.7L588.9 627.3M590.8 633.7L579.3 633.1M576.8 648.3L571.7 649.0M565.3 627.3L565.3 638.2M545.0 616.5L552.6 615.3M557.7 622.9L550.1 629.3M550.1 629.3L547.5 627.3M589.5 600.0L598.4 602.5M591.0 597.1L598.6 601.5M556.6 616.8L550.3 615.5M541.4 615.5L543.9 620.6M541.4 615.5L540.1 613.0M556.6 616.8L559.2 623.2M551.5 629.5L547.7 632.1M551.5 629.5L549.0 627.0M566.8 627.0L565.5 635.9M585.9 633.3L591.0 632.1M591.0 632.1L589.7 627.0" stroke="#b8343a"/>
<path d="M558.4 540.9L566.0 542.8M581.9 547.3L589.5 546.0M606.0 563.2L603.5 568.9M565.3 542.8L566.0 552.3M564.1 570.8L562.2 581.0M547.5 545.3L545.0 550.4M574.3 624.2L565.3 627.3M552.6 602.5L566.6 603.8M566.8 604.1L555.3 605.3M573.2 607.9L584.6 605.3M550.3 615.5L541.4 615.5M559.2 623.2L566.8 627.0M577.0 628.2L585.9 633.3" stroke="#6e2a2c"/>
<path d="M604.8 556.8L598.4 565.7M598.4 565.7L576.8 565.7" stroke="#c96a30"/>
</g>

</svg>
</body></html>
